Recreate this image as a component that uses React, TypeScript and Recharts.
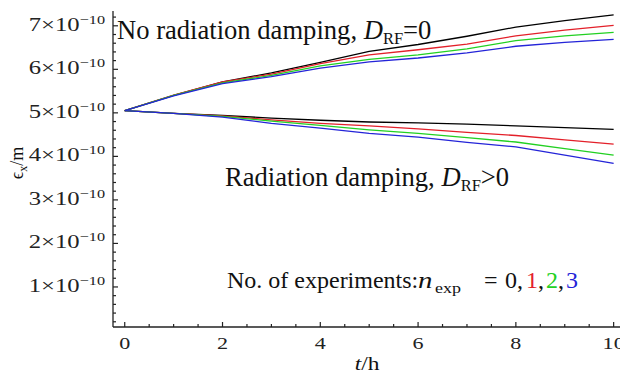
import { LineChart, Line, XAxis, YAxis } from "recharts";

// emittance in units of 1e-10 m, sampled every hour
const HOURS = [0, 1, 2, 3, 4, 5, 6, 7, 8, 9, 10];

const NO_DAMP_0 = [5.05, 5.4, 5.71, 5.92, 6.16, 6.41, 6.57, 6.76, 6.97, 7.12, 7.25];
const NO_DAMP_1 = [5.05, 5.41, 5.71, 5.89, 6.13, 6.33, 6.45, 6.58, 6.77, 6.9, 7.01];
const NO_DAMP_2 = [5.05, 5.4, 5.69, 5.86, 6.08, 6.23, 6.33, 6.47, 6.66, 6.77, 6.85];
const NO_DAMP_3 = [5.05, 5.39, 5.67, 5.83, 6.03, 6.17, 6.26, 6.38, 6.53, 6.62, 6.69];

const DAMP_0 = [5.05, 4.99, 4.94, 4.88, 4.83, 4.79, 4.77, 4.74, 4.7, 4.66, 4.62];
const DAMP_1 = [5.05, 4.99, 4.93, 4.84, 4.76, 4.7, 4.63, 4.55, 4.48, 4.38, 4.28];
const DAMP_2 = [5.05, 4.99, 4.92, 4.81, 4.71, 4.61, 4.53, 4.43, 4.33, 4.18, 4.03];
const DAMP_3 = [5.05, 4.99, 4.9, 4.76, 4.65, 4.53, 4.44, 4.32, 4.22, 4.03, 3.84];

const UPPER = [NO_DAMP_0, NO_DAMP_1, NO_DAMP_2, NO_DAMP_3];
const LOWER = [DAMP_0, DAMP_1, DAMP_2, DAMP_3];
const COLORS = ["#000000", "#e3202a", "#22d022", "#2424d8"];

const X_TICKS = Array.from({ length: 21 }, (_, i) => i * 0.5);
const Y_TICKS = Array.from({ length: 36 }, (_, i) => Math.round((i + 1) * 2) / 10);

const FONT = '"Liberation Serif", "Times New Roman", serif';
const AXIS = "#222";
const STRETCH = 1.3; // tick labels in the original look horizontally stretched

const data = HOURS.map((t, i) => {
  const row: Record<string, number> = { t };
  UPPER.forEach((s, k) => (row[`u${k}`] = s[i]));
  LOWER.forEach((s, k) => (row[`l${k}`] = s[i]));
  return row;
});

const isWhole = (v: number, step: number) => Math.abs(v / step - Math.round(v / step)) < 1e-6;

const XTick = (props: any) => {
  const { x, y, payload, top } = props;
  const v = payload.value;
  const major = isWhole(v, 2);
  const len = major ? 5 : 3;
  return (
    <g>
      <line x1={x} x2={x} y1={y} y2={top ? y + len : y - len} stroke={AXIS} strokeWidth={1.2} />
      {!top && major && (
        <g transform={`translate(${x},${y + 22}) scale(${STRETCH},1)`}>
          <text x={0} y={0} textAnchor="middle" fontSize={17} fontFamily={FONT} fill="#222">
            {v}
          </text>
        </g>
      )}
    </g>
  );
};

const YTick = (props: any) => {
  const { x, y, payload } = props;
  const v = payload.value;
  const major = isWhole(v, 1);
  const len = major ? 5 : 3;
  return (
    <g>
      <line x1={x} x2={x + len} y1={y} y2={y} stroke={AXIS} strokeWidth={1.2} />
      {major && (
        <g transform={`translate(${x - 8},${y + 5}) scale(${STRETCH},1)`}>
          <text x={0} y={0} textAnchor="end" fontSize={19} fontFamily={FONT} fill="#222">
            {`${Math.round(v)}×10`}
            <tspan dy={-7} fontSize={12.5}>
              −10
            </tspan>
          </text>
        </g>
      )}
    </g>
  );
};

export default function App() {
  return (
    <div style={{ position: "absolute", left: 0, top: 0, width: 620, height: 373, background: "#fff" }}>
      <LineChart width={620} height={373} data={data} margin={{ top: 11, right: 0, bottom: 0, left: 0 }}>
        <XAxis
          dataKey="t"
          type="number"
          domain={[-0.24, 10.13]}
          allowDataOverflow
          ticks={X_TICKS}
          interval={0}
          tick={<XTick />}
          tickLine={false}
          tickSize={0}
          tickMargin={0}
          height={46}
          axisLine={{ stroke: AXIS, strokeWidth: 1.3 }}
        />
        <XAxis
          xAxisId="top"
          orientation="top"
          dataKey="t"
          type="number"
          domain={[-0.24, 10.13]}
          allowDataOverflow
          ticks={X_TICKS}
          interval={0}
          tick={<XTick top />}
          tickLine={false}
          tickSize={0}
          tickMargin={0}
          height={0}
          axisLine={{ stroke: AXIS, strokeWidth: 1.3 }}
        />
        <YAxis
          type="number"
          domain={[0.08, 7.34]}
          allowDataOverflow
          ticks={Y_TICKS}
          interval={0}
          tick={<YTick />}
          tickLine={false}
          tickSize={0}
          tickMargin={0}
          width={113}
          axisLine={{ stroke: AXIS, strokeWidth: 1.3 }}
        />
        {UPPER.map((_, k) => (
          <Line
            key={`u${k}`}
            dataKey={`u${k}`}
            stroke={COLORS[k]}
            strokeWidth={1.3}
            dot={false}
            isAnimationActive={false}
          />
        ))}
        {LOWER.map((_, k) => (
          <Line
            key={`l${k}`}
            dataKey={`l${k}`}
            stroke={COLORS[k]}
            strokeWidth={1.3}
            dot={false}
            isAnimationActive={false}
          />
        ))}
      </LineChart>
      <svg
        width={620}
        height={373}
        style={{ position: "absolute", left: 0, top: 0, pointerEvents: "none" }}
        fontFamily={FONT}
        fill="#111"
      >
        <text x={117} y={39} fontSize={26.6}>
          No radiation damping,{" "}
          <tspan fontStyle="italic">D</tspan>
          <tspan fontSize={16.5} dy={5}>
            RF
          </tspan>
          <tspan dy={-5}>=0</tspan>
        </text>
        <text x={225} y={186} fontSize={26.6}>
          Radiation damping, <tspan fontStyle="italic">D</tspan>
          <tspan fontSize={16.5} dy={5}>
            RF
          </tspan>
          <tspan dy={-5}>&gt;0</tspan>
        </text>
        <g fontSize={24}>
          <text x={227} y={288}>No. of experiments:</text>
          <g transform="translate(418,288) scale(1.2,1)">
            <text x={0} y={0} fontStyle="italic">
              n
            </text>
          </g>
          <g transform="translate(435,293) scale(1.2,1)">
            <text x={0} y={0} fontSize={15}>
              exp
            </text>
          </g>
          <text x={484} y={288}>=</text>
          <text x={505} y={288}>0,</text>
          <text x={526} y={288}>
            <tspan fill={COLORS[1]}>1</tspan>,
          </text>
          <text x={546} y={288}>
            <tspan fill={COLORS[2]}>2</tspan>,
          </text>
          <text x={566} y={288} fill={COLORS[3]}>
            3
          </text>
        </g>
        <text transform="translate(23,163) rotate(-90)" textAnchor="middle" fontSize={18}>
          ϵ
          <tspan fontSize={12} dy={4}>
            x
          </tspan>
          <tspan dy={-4}>/m</tspan>
        </text>
        <g transform={`translate(367,370) scale(${STRETCH},1)`}>
          <text x={0} y={0} textAnchor="middle" fontSize={18}>
            <tspan fontStyle="italic">t</tspan>/h
          </text>
        </g>
      </svg>
    </div>
  );
}
